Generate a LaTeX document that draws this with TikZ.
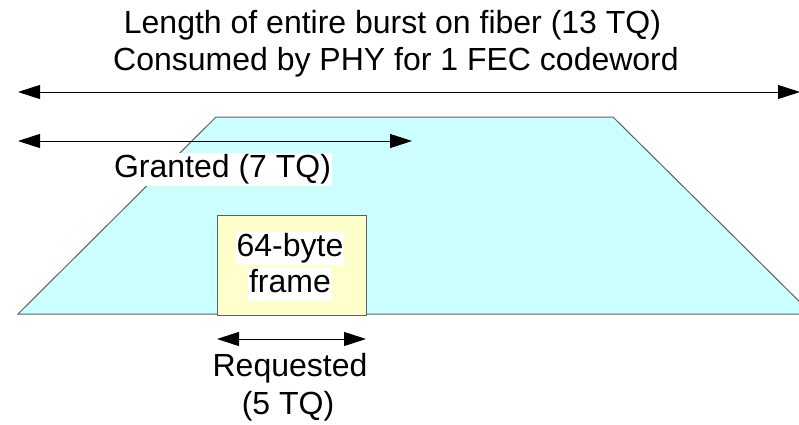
\documentclass[tikz,border=0pt]{standalone}
\usepackage{fontspec}
\setmainfont{Liberation Sans}
\usetikzlibrary{arrows.meta}
\definecolor{burst}{HTML}{CCFFFF}
\definecolor{frameY}{HTML}{FFFFCC}
\definecolor{edge}{HTML}{606060}
\begin{document}
\begin{tikzpicture}[x=0.5pt,y=-0.5pt,
  lbl/.style={font=\fontsize{16}{19}\selectfont, inner sep=0pt, anchor=base},
  lblbg/.style={lbl, fill=white, text height=12pt, text depth=4.25pt, inner xsep=0.5pt},
  span/.style={line width=0.5pt, {Triangle[length=11pt,width=7pt]}-{Triangle[length=11pt,width=7pt]}},
  framebox/.style={draw=edge, fill=frameY, line width=0.5pt, inner sep=0pt, minimum width=74.5pt, minimum height=50pt},
]
\useasboundingbox (0,0) rectangle (799,424);
% burst trapezoid
\draw[draw=edge, fill=burst, line width=0.5pt] (18,314) -- (216,117) -- (613,117) -- (812,314) -- cycle;
% frame box
\node[framebox] (frame) at (291.5,265) {};
% arrow end points
\coordinate (bL) at (18,92);
\coordinate (bR) at (800,92);
\coordinate (gL) at (18,141);
\coordinate (gR) at (412,141);
\coordinate (rL) at (217,339);
\coordinate (rR) at (366,339);
\draw[span] (bL) -- (bR);
\draw[span] (gL) -- (gR);
\draw[span] (rL) -- (rR);
% labels
\node[lbl] (t1) at (392.5,33) {Length of entire burst on fiber (13 TQ)};
\node[lbl] (t2) at (396,70) {Consumed by PHY for 1 FEC codeword};
\node[lblbg] (gr) at (222.5,177) {Granted (7 TQ)};
\node[lblbg] (f1) at (290,256) {64-byte};
\node[lblbg] (f2) at (290,292) {frame};
\node[lbl] (rq1) at (290,376) {Requested};
\node[lbl] (rq2) at (288,414) {(5 TQ)};
\end{tikzpicture}
\end{document}
